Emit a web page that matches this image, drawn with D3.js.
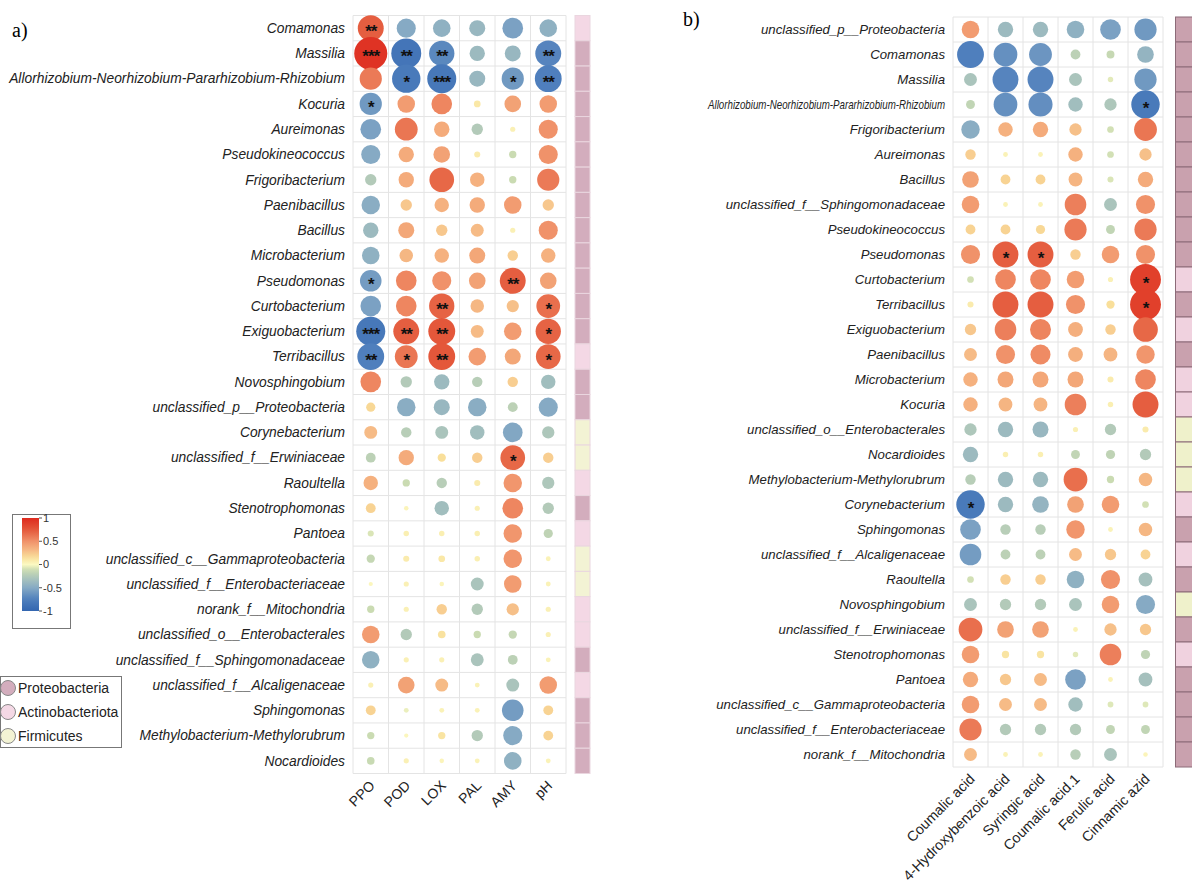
<!DOCTYPE html>
<html><head><meta charset="utf-8">
<script src="https://cdn.jsdelivr.net/npm/d3@7"></script>
<style>body{margin:0;background:#fff;} svg{display:block;font-family:"Liberation Sans",Arial,sans-serif;}</style>
</head><body><svg id="c" width="1192" height="884"></svg>
<script>
// ---------- DATA ----------
const taxaA = ["Comamonas","Massilia","Allorhizobium-Neorhizobium-Pararhizobium-Rhizobium","Kocuria","Aureimonas","Pseudokineococcus","Frigoribacterium","Paenibacillus","Bacillus","Microbacterium","Pseudomonas","Curtobacterium","Exiguobacterium","Terribacillus","Novosphingobium","unclassified_p__Proteobacteria","Corynebacterium","unclassified_f__Erwiniaceae","Raoultella","Stenotrophomonas","Pantoea","unclassified_c__Gammaproteobacteria","unclassified_f__Enterobacteriaceae","norank_f__Mitochondria","unclassified_o__Enterobacterales","unclassified_f__Sphingomonadaceae","unclassified_f__Alcaligenaceae","Sphingomonas","Methylobacterium-Methylorubrum","Nocardioides"];
const varsA = ["PPO","POD","LOX","PAL","AMY","pH"];
const corrA = [
 [0.72,-0.5,-0.45,-0.4,-0.55,-0.45],
 [0.95,-0.85,-0.7,-0.38,-0.4,-0.72],
 [0.6,-0.8,-0.82,-0.4,-0.6,-0.75],
 [-0.6,0.45,0.55,0.1,0.42,0.45],
 [-0.55,0.62,0.38,-0.25,0.05,0.5],
 [-0.5,0.38,0.42,0.08,-0.12,0.5],
 [-0.25,0.38,0.68,0.35,-0.12,0.6],
 [-0.48,0.25,0.35,0.38,0.45,0.25],
 [-0.38,0.4,0.25,0.3,0.05,0.5],
 [-0.45,0.32,0.35,0.4,0.22,0.35],
 [-0.58,0.55,0.5,0.42,0.72,0.42],
 [-0.55,0.55,0.7,0.32,0.28,0.65],
 [-0.82,0.72,0.75,0.3,0.45,0.7],
 [-0.75,0.62,0.75,0.45,0.4,0.68],
 [0.55,-0.25,-0.38,-0.22,0.22,-0.35],
 [0.18,-0.48,-0.4,-0.48,-0.2,-0.5],
 [0.3,-0.22,-0.3,-0.35,-0.52,-0.28],
 [-0.2,0.38,0.15,0.22,0.68,0.22],
 [0.35,-0.12,-0.22,0.08,0.48,-0.28],
 [0.2,0.03,-0.35,0.05,0.55,-0.25],
 [-0.08,0.06,0.06,0.06,0.48,-0.18],
 [-0.15,0.08,0.1,0.06,0.48,0.04],
 [0.02,0.05,0.03,-0.3,0.45,0.04],
 [-0.12,0.05,0.22,-0.25,0.28,0.05],
 [0.45,-0.25,0.13,-0.12,-0.15,0.05],
 [-0.45,0.05,0.05,-0.3,-0.2,0.04],
 [0.05,0.42,0.3,0.04,-0.3,0.45],
 [0.2,-0.04,0.04,0.04,-0.58,0.2],
 [-0.12,0.02,0.12,-0.25,-0.5,0.2],
 [-0.13,0.05,0.03,0.04,-0.45,0.04]
];
const sigA = [
 ["**","","","","",""],
 ["***","**","**","","","**"],
 ["","*","***","","*","**"],
 ["*","","","","",""],
 ["","","","","",""],["","","","","",""],["","","","","",""],["","","","","",""],["","","","","",""],["","","","","",""],
 ["*","","","","**",""],
 ["","","**","","","*"],
 ["***","**","**","","","*"],
 ["**","*","**","","","*"],
 ["","","","","",""],["","","","","",""],["","","","","",""],
 ["","","","","*",""],
 ["","","","","",""],["","","","","",""],["","","","","",""],["","","","","",""],["","","","","",""],["","","","","",""],["","","","","",""],["","","","","",""],["","","","","",""],["","","","","",""],["","","","","",""],["","","","","",""]
];
const phylumA = ["A","P","P","P","P","P","P","P","P","P","P","P","P","A","P","P","F","F","A","P","A","F","F","A","A","P","A","P","P","P"];

const taxaB = ["unclassified_p__Proteobacteria","Comamonas","Massilia","Allorhizobium-Neorhizobium-Pararhizobium-Rhizobium","Frigoribacterium","Aureimonas","Bacillus","unclassified_f__Sphingomonadaceae","Pseudokineococcus","Pseudomonas","Curtobacterium","Terribacillus","Exiguobacterium","Paenibacillus","Microbacterium","Kocuria","unclassified_o__Enterobacterales","Nocardioides","Methylobacterium-Methylorubrum","Corynebacterium","Sphingomonas","unclassified_f__Alcaligenaceae","Raoultella","Novosphingobium","unclassified_f__Erwiniaceae","Stenotrophomonas","Pantoea","unclassified_c__Gammaproteobacteria","unclassified_f__Enterobacteriaceae","norank_f__Mitochondria"];
const varsB = ["Coumalic acid","4-Hydroxybenzoic acid","Syringic acid","Coumalic acid.1","Ferulic acid","Cinnamic azid"];
const corrB = [
 [0.45,-0.38,-0.38,-0.45,-0.55,-0.6],
 [-0.75,-0.65,-0.62,-0.2,-0.14,-0.42],
 [-0.3,-0.72,-0.72,-0.3,-0.06,-0.6],
 [-0.17,-0.65,-0.66,-0.35,-0.28,-0.8],
 [-0.48,0.35,0.38,0.28,-0.1,0.62],
 [0.22,0.04,0.04,0.35,-0.1,0.28],
 [0.42,0.2,0.2,0.33,-0.08,0.38],
 [0.45,0.04,0.04,0.58,-0.3,0.5],
 [0.2,0.2,0.18,0.6,-0.17,0.6],
 [0.5,0.72,0.72,0.22,0.45,0.5],
 [-0.1,0.55,0.55,0.45,0.05,0.88],
 [0.08,0.72,0.72,0.5,0.15,0.88],
 [0.25,0.58,0.56,0.36,0.22,0.68],
 [0.3,0.5,0.53,0.36,0.33,0.48],
 [0.35,0.4,0.4,0.4,0.08,0.55],
 [0.35,0.33,0.33,0.58,0.06,0.72],
 [-0.28,-0.38,-0.4,0.05,-0.25,0.08],
 [-0.38,0.06,0.06,-0.17,-0.18,-0.25],
 [-0.22,-0.38,-0.38,0.65,-0.12,0.32],
 [-0.8,-0.38,-0.42,0.42,0.45,-0.1],
 [-0.55,-0.22,-0.22,0.48,0.04,0.32],
 [-0.58,-0.2,-0.2,0.3,0.25,0.2],
 [-0.1,0.22,0.22,-0.45,0.5,-0.33],
 [-0.3,-0.25,-0.25,-0.3,0.45,-0.5],
 [0.65,0.42,0.42,0.04,0.28,0.25],
 [0.45,0.12,0.12,-0.06,0.58,-0.18],
 [0.38,0.25,0.3,-0.55,0.04,-0.33],
 [0.45,0.3,0.3,-0.35,-0.07,-0.07],
 [0.6,-0.25,-0.25,-0.25,-0.17,-0.17],
 [0.3,0.04,0.04,-0.22,-0.3,0.03]
];
const sigB = taxaB.map(()=>["","","","","",""]);
sigB[3][5]="*"; sigB[9][1]="*"; sigB[9][2]="*"; sigB[10][5]="*"; sigB[11][5]="*"; sigB[19][0]="*";
const phylumB = ["P","P","P","P","P","P","P","P","P","P","A","P","A","P","A","A","F","F","F","A","P","A","P","F","P","A","P","P","P","P"];

const phylumNames = {P:"Proteobacteria", A:"Actinobacteriota", F:"Firmicutes"};
const legendTicks = [1,0.5,0,-0.5,-1];

// ---------- SCALES ----------
const color = d3.scaleLinear()
  .domain([-1,-0.75,-0.5,-0.3,-0.12,0,0.15,0.3,0.5,0.75,1])
  .range(["#3366b0","#4f7fbd","#86aac4","#aac4bc","#cadbb2","#fbf9c2","#f9df9a","#f6bb86","#f0926a","#e4573a","#de2a1e"])
  .interpolate(d3.interpolateRgb);
const rad = d3.scaleLinear().domain([0,1]).range([1.8,17.3]);

const svg = d3.select("#c");

function panel(opt){
  const {taxa, vars, corr, sig, phyla, x0, x1, y0, y1, labelX, stripX, stripW, stripCols, stripStroke, labelFont, axisFont, maxLabelW} = opt;
  const x = d3.scaleBand().domain(vars).range([x0,x1]);
  const y = d3.scaleBand().domain(taxa).range([y0,y1]);
  const g = svg.append("g");
  const gg = g.append("g").attr("stroke","#e4e4e4").attr("stroke-width",1);
  d3.range(vars.length+1).forEach(i=>{
    const xx = x0 + i*x.bandwidth();
    gg.append("line").attr("x1",xx).attr("x2",xx).attr("y1",y0).attr("y2",y1);
  });
  d3.range(taxa.length+1).forEach(i=>{
    const yy = y0 + i*y.bandwidth();
    gg.append("line").attr("x1",x0).attr("x2",x1).attr("y1",yy).attr("y2",yy);
  });
  const cells = [];
  taxa.forEach((t,i)=>vars.forEach((v,j)=>cells.push({t,v,r:corr[i][j],s:sig[i][j]})));
  g.append("g").selectAll("circle").data(cells).join("circle")
    .attr("cx",d=>x(d.v)+x.bandwidth()/2)
    .attr("cy",d=>y(d.t)+y.bandwidth()/2)
    .attr("r",d=>rad(Math.abs(d.r)))
    .attr("fill",d=>color(d.r));
  g.append("g").selectAll("text").data(cells.filter(d=>d.s)).join("text")
    .attr("x",d=>x(d.v)+x.bandwidth()/2)
    .attr("y",d=>y(d.t)+y.bandwidth()/2+9)
    .attr("text-anchor","middle")
    .attr("font-size",17).attr("font-weight","bold").attr("fill","#111")
    .attr("letter-spacing",-1)
    .text(d=>d.s);
  g.append("g").selectAll("text").data(taxa).join("text")
    .attr("x",labelX).attr("y",d=>y(d)+y.bandwidth()/2)
    .attr("dy","0.35em").attr("text-anchor","end")
    .attr("font-style","italic").attr("font-size",labelFont).attr("fill","#222")
    .text(d=>d)
    .each(function(){
      const w = this.getComputedTextLength();
      if (w > maxLabelW){ d3.select(this).attr("textLength",maxLabelW).attr("lengthAdjust","spacingAndGlyphs"); }
    });
  g.append("g").selectAll("text").data(vars).join("text")
    .attr("transform",d=>`translate(${x(d)+x.bandwidth()/2+5},${y1+13}) rotate(-45)`)
    .attr("text-anchor","end").attr("font-size",axisFont).attr("fill","#222")
    .text(d=>d);
  g.append("g").selectAll("rect").data(taxa).join("rect")
    .attr("x",stripX).attr("width",stripW)
    .attr("y",d=>y(d)).attr("height",y.bandwidth())
    .attr("fill",(d,i)=>stripCols[phyla[i]])
    .attr("stroke",stripStroke).attr("stroke-width",1);
}

panel({taxa:taxaA, vars:varsA, corr:corrA, sig:sigA, phyla:phylumA,
  x0:353, x1:566, y0:15.5, y1:773.5, labelX:345, stripX:575, stripW:15,
  stripCols:{P:"#d3adbd",A:"#f4d8e5",F:"#f3f3d4"}, stripStroke:"#ead6df",
  labelFont:13.8, axisFont:14, maxLabelW:400});

panel({taxa:taxaB, vars:varsB, corr:corrB, sig:sigB, phyla:phylumB,
  x0:953, x1:1163, y0:17, y1:767, labelX:945, stripX:1175.5, stripW:20,
  stripCols:{P:"#c9a1ae",A:"#f0d2df",F:"#eff1cb"}, stripStroke:"#8c6b78",
  labelFont:13.2, axisFont:14.2, maxLabelW:237});

svg.append("text").attr("x",12).attr("y",37).attr("font-family","'Liberation Serif','Times New Roman',serif").attr("font-size",20).text("a)");
svg.append("text").attr("x",683).attr("y",26).attr("font-family","'Liberation Serif','Times New Roman',serif").attr("font-size",20).text("b)");

const defs = svg.append("defs");
const grad = defs.append("linearGradient").attr("id","cb").attr("x1",0).attr("x2",0).attr("y1",0).attr("y2",1);
d3.range(0,1.0001,0.05).forEach(t=>{
  grad.append("stop").attr("offset",t).attr("stop-color",color(1-2*t));
});
svg.append("rect").attr("x",12.5).attr("y",514.5).attr("width",58).attr("height",114).attr("fill","#fff").attr("stroke","#777");
const cbY = d3.scaleLinear().domain([1,-1]).range([518,611]);
svg.append("rect").attr("x",22).attr("y",518).attr("width",17).attr("height",93).attr("fill","url(#cb)");
const lg = svg.append("g");
legendTicks.forEach(v=>{
  lg.append("line").attr("x1",39).attr("x2",42).attr("y1",cbY(v)).attr("y2",cbY(v)).attr("stroke","#555");
  lg.append("text").attr("x",43).attr("y",cbY(v)).attr("dy","0.35em").attr("font-size",11).attr("fill","#333").text(v);
});

svg.append("rect").attr("x",0.5).attr("y",676.5).attr("width",121).attr("height",71).attr("fill","#fff").attr("stroke","#777");
const pcols = {P:"#d3adbd",A:"#f4d8e5",F:"#f3f3d4"};
["P","A","F"].forEach((k,i)=>{
  const yy = 688 + i*24;
  svg.append("circle").attr("cx",8).attr("cy",yy).attr("r",7.5).attr("fill",pcols[k]).attr("stroke","#888");
  svg.append("text").attr("x",18).attr("y",yy).attr("dy","0.35em").attr("font-size",14).attr("fill","#222").text(phylumNames[k]);
});
</script>
</body></html>
